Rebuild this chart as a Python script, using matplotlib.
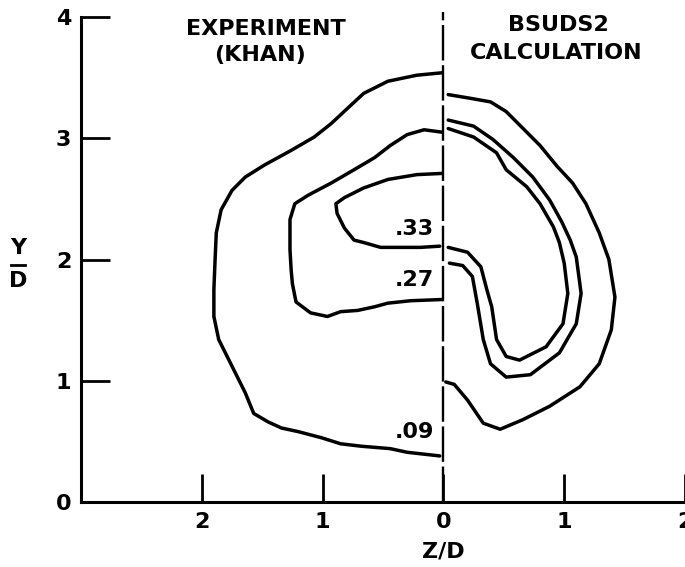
import matplotlib
matplotlib.use("Agg")
import matplotlib.pyplot as plt
from matplotlib.lines import Line2D
import numpy as np

# Experiment (Khan) contours, left half: Z/D measured leftwards from the symmetry plane
exp_09_z = [0.01, 0.22, 0.46, 0.66, 0.79, 0.93, 1.07, 1.26, 1.48, 1.64, 1.75, 1.84, 1.88, 1.89,
            1.90, 1.90, 1.86, 1.75, 1.64, 1.57, 1.45, 1.34, 1.20, 1.01, 0.85, 0.68, 0.44, 0.30, 0.03]
exp_09_y = [3.54, 3.52, 3.47, 3.37, 3.25, 3.12, 3.01, 2.90, 2.78, 2.68, 2.57, 2.41, 2.22, 2.00,
            1.75, 1.53, 1.34, 1.12, 0.90, 0.73, 0.66, 0.61, 0.58, 0.53, 0.48, 0.46, 0.44, 0.41, 0.38]

exp_27_z = [0.01, 0.16, 0.30, 0.44, 0.57, 0.74, 0.93, 1.12, 1.23, 1.27, 1.27, 1.26, 1.25, 1.22,
            1.10, 0.96, 0.85, 0.71, 0.57, 0.46, 0.27, 0.01]
exp_27_y = [3.05, 3.07, 3.03, 2.94, 2.84, 2.74, 2.63, 2.53, 2.46, 2.33, 2.08, 1.91, 1.80, 1.65,
            1.56, 1.53, 1.57, 1.58, 1.61, 1.64, 1.66, 1.67]

exp_33_z = [0.01, 0.22, 0.46, 0.66, 0.82, 0.89, 0.88, 0.82, 0.74, 0.66, 0.52, 0.35, 0.19, 0.03]
exp_33_y = [2.71, 2.70, 2.66, 2.59, 2.51, 2.46, 2.38, 2.26, 2.16, 2.14, 2.10, 2.10, 2.10, 2.11]

# BSUDS2 calculation contours, right half
calc_outer_z = [0.04, 0.22, 0.39, 0.52, 0.66, 0.80, 0.94, 1.07, 1.18, 1.29, 1.37, 1.42, 1.39,
                1.29, 1.13, 0.88, 0.66, 0.47, 0.33, 0.20, 0.09, 0.02]
calc_outer_y = [3.36, 3.33, 3.30, 3.22, 3.08, 2.94, 2.77, 2.63, 2.46, 2.22, 2.00, 1.69, 1.42,
                1.14, 0.95, 0.79, 0.68, 0.60, 0.65, 0.84, 0.97, 0.99]

calc_mid_z = [0.04, 0.25, 0.41, 0.58, 0.74, 0.88, 0.98, 1.05, 1.10, 1.14, 1.10, 0.96, 0.72,
              0.52, 0.39, 0.33, 0.28, 0.24, 0.16, 0.05]
calc_mid_y = [3.15, 3.10, 2.99, 2.84, 2.68, 2.49, 2.31, 2.16, 2.02, 1.72, 1.47, 1.23, 1.05,
              1.03, 1.14, 1.34, 1.64, 1.86, 1.95, 1.97]

calc_inner_z = [0.04, 0.25, 0.44, 0.52, 0.69, 0.80, 0.91, 0.96, 1.00, 1.03, 0.99, 0.85, 0.63,
                0.52, 0.44, 0.40, 0.36, 0.31, 0.20, 0.04]
calc_inner_y = [3.08, 3.01, 2.88, 2.74, 2.60, 2.46, 2.27, 2.14, 1.97, 1.72, 1.47, 1.28, 1.17,
                1.20, 1.34, 1.61, 1.75, 1.94, 2.06, 2.10]

x_ticks = [-2, -1, 0, 1, 2]
x_tick_labels = ["2", "1", "0", "1", "2"]
y_ticks = [0, 1, 2, 3, 4]
contour_labels = [".33", ".27", ".09"]
contour_label_y = [2.25, 1.83, 0.58]

plt.rcParams["font.family"] = ["DejaVu Sans"]

fig = plt.figure(figsize=(6.85, 5.67), dpi=100)
ax = fig.add_axes([81 / 685, 65 / 567, 604 / 685, 485 / 567])

lw = 2.5
for zz, yy, side in [(exp_09_z, exp_09_y, -1), (exp_27_z, exp_27_y, -1), (exp_33_z, exp_33_y, -1),
                     (calc_outer_z, calc_outer_y, 1), (calc_mid_z, calc_mid_y, 1),
                     (calc_inner_z, calc_inner_y, 1)]:
    ax.plot(side * np.array(zz), yy, color="black", lw=lw, solid_capstyle="round",
            solid_joinstyle="round")

# symmetry plane
ax.plot([0, 0], [0, 4.04], color="black", lw=1.7, dashes=(15, 2.0), clip_on=False)

for lab, yy in zip(contour_labels, contour_label_y):
    ax.text(-0.24, yy, lab, fontsize=16, fontweight="bold", ha="center", va="center")

ax.text(-1.47, 3.90, "EXPERIMENT", fontsize=16, fontweight="bold", ha="center", va="center")
ax.text(-1.52, 3.69, "(KHAN)", fontsize=16, fontweight="bold", ha="center", va="center")
ax.text(0.95, 3.93, "BSUDS2", fontsize=16, fontweight="bold", ha="center", va="center")
ax.text(0.93, 3.70, "CALCULATION", fontsize=16, fontweight="bold", ha="center", va="center")

ax.set_xlim(-3, 2)
ax.set_ylim(0, 4)
ax.set_xticks(x_ticks)
ax.set_xticklabels(x_tick_labels)
ax.set_yticks(y_ticks)
ax.set_yticklabels([str(v) for v in y_ticks])
ax.tick_params(axis="x", direction="in", length=20, width=2, pad=7, labelsize=16)
ax.tick_params(axis="y", direction="in", length=21, width=2, pad=7, labelsize=16)
for t in ax.get_xticklabels() + ax.get_yticklabels():
    t.set_fontweight("bold")

ax.spines["top"].set_visible(False)
ax.spines["right"].set_visible(False)
ax.spines["left"].set_linewidth(2.2)
ax.spines["bottom"].set_linewidth(2.2)

ax.text(0, -0.103, "Z/D", transform=ax.get_xaxis_transform(), fontsize=16,
        fontweight="bold", ha="center", va="center")

# Y/D as a stacked fraction
fig.text(18 / 685, 1 - 248 / 567, "Y", fontsize=16, fontweight="bold", ha="center", va="center")
fig.text(18 / 685, 1 - 281 / 567, "D", fontsize=16, fontweight="bold", ha="center", va="center")
fig.add_artist(Line2D([11 / 685, 25 / 685], [1 - 265 / 567] * 2, lw=2, color="black"))

fig.savefig("out.png", dpi=100)
